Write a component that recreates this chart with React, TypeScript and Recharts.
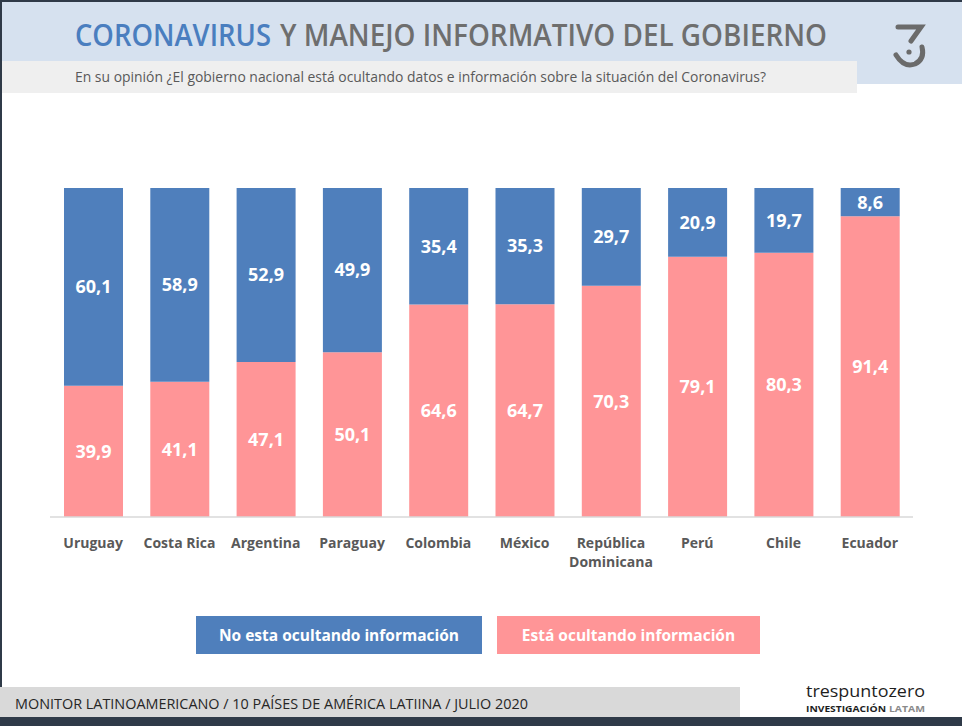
import React from 'react';
import { BarChart, Bar, XAxis, YAxis, LabelList } from 'recharts';

const categories = ['Uruguay', 'Costa Rica', 'Argentina', 'Paraguay', 'Colombia', 'México', 'República Dominicana', 'Perú', 'Chile', 'Ecuador'];
const noOcultando = [60.1, 58.9, 52.9, 49.9, 35.4, 35.3, 29.7, 20.9, 19.7, 8.6];
const ocultando = [39.9, 41.1, 47.1, 50.1, 64.6, 64.7, 70.3, 79.1, 80.3, 91.4];
const seriesNames = { no: 'No esta ocultando información', si: 'Está ocultando información' };

const BLUE = '#4f7fbc';
const PINK = '#ff9597';
const FONT = '"Open Sans", "Noto Sans", sans-serif';

const data = categories.map((c, i) => ({ name: c, no: noOcultando[i], si: ocultando[i] }));

const fmt = (v: any) => String(v).replace('.', ',');

const CategoryTick = (props: any) => {
  const { x, y, payload } = props;
  const label: string = payload.value;
  const lines = label.length > 12 ? label.split(' ') : [label];
  return (
    <g>
      {lines.map((l, i) => (
        <text key={i} x={x} y={y + 23 + i * 19} textAnchor="middle" fill="#595959" fontSize={14} fontWeight={700} fontFamily={FONT}>
          {l}
        </text>
      ))}
    </g>
  );
};

const LegendBoxes = () => {
  const items = [
    { name: seriesNames.no, color: BLUE, w: 286 },
    { name: seriesNames.si, color: PINK, w: 263 },
  ];
  return (
    <div style={{ position: 'absolute', left: 196, top: 616, display: 'flex', gap: 15 }}>
      {items.map((it) => (
        <div key={it.name} style={{ width: it.w, height: 38, background: it.color, color: '#fff', fontFamily: FONT, fontWeight: 700, fontSize: 15.5, display: 'flex', alignItems: 'center', justifyContent: 'center' }}>
          {it.name}
        </div>
      ))}
    </div>
  );
};

const Decor = () => (
  <svg width={962} height={726} style={{ position: 'absolute', left: 0, top: 0 }}>
    <rect x={0} y={0} width={962} height={726} fill="#ffffff" />
    <rect x={0} y={0} width={962} height={84} fill="#d6e1ef" />
    <rect x={0} y={61} width={857} height={32} fill="#efefef" />
    <rect x={0} y={0} width={962} height={2} fill="#2f3a48" />
    <rect x={0} y={0} width={2} height={726} fill="#2f3a48" />
    <text x={75} y={46} fontFamily={FONT} fontSize={31} fontWeight={600} fill="#4a7ebf" textLength={196} lengthAdjust="spacingAndGlyphs">CORONAVIRUS</text>
    <text x={280} y={46} fontFamily={FONT} fontSize={31} fontWeight={600} fill="#6e6e6e" textLength={547} lengthAdjust="spacingAndGlyphs">Y MANEJO INFORMATIVO DEL GOBIERNO</text>
    <text x={75} y={82} fontFamily={FONT} fontSize={14} fill="#595959" textLength={691} lengthAdjust="spacingAndGlyphs">
      En su opinión ¿El gobierno nacional está ocultando datos e información sobre la situación del Coronavirus?
    </text>
    <g stroke="#6b6b6b" strokeWidth={5} fill="none" strokeLinecap="round">
      <path d="M 898 27 L 921 27 L 911 41" />
      <path d="M 896 55 Q 904 68 915 64 Q 925 59 922 47" />
    </g>
    <circle cx={909} cy={52} r={2.6} fill="#6b6b6b" />
    <rect x={0} y={687} width={740} height={30} fill="#d9d9d9" />
    <text x={15} y={709} fontFamily={FONT} fontSize={14} fill="#262626" textLength={513} lengthAdjust="spacingAndGlyphs">
      MONITOR LATINOAMERICANO / 10 PAÍSES DE AMÉRICA LATIINA / JULIO 2020
    </text>
    <text x={806} y={697} fontFamily={FONT} fontSize={16} fill="#1e1e1e" textLength={119} lengthAdjust="spacingAndGlyphs">trespuntozero</text>
    <text x={806} y={712} fontFamily={FONT} fontSize={9} fontWeight={700} fill="#1e1e1e" textLength={80} lengthAdjust="spacingAndGlyphs">INVESTIGACIÓN</text>
    <text x={889} y={712} fontFamily={FONT} fontSize={9} fontWeight={700} fill="#8a8a8a" textLength={36} lengthAdjust="spacingAndGlyphs">LATAM</text>
    <rect x={0} y={717} width={962} height={9} fill="#2f3a48" />
  </svg>
);

export default function App() {
  return (
    <div style={{ position: 'absolute', left: 0, top: 0, width: 962, height: 726, overflow: 'hidden' }}>
      <Decor />
      <div style={{ position: 'absolute', left: 0, top: 0 }}>
        <BarChart width={962} height={726} data={data} margin={{ top: 188, right: 49, bottom: 169, left: 50 }} barSize={59}>
          <XAxis dataKey="name" height={40} interval={0} tickLine={false} axisLine={{ stroke: '#d9d9d9', strokeWidth: 1.5 }} tick={<CategoryTick />} />
          <YAxis hide domain={[0, 100]} width={0} />
          <Bar dataKey="si" name={seriesNames.si} stackId="a" fill={PINK} isAnimationActive={false}>
            <LabelList dataKey="si" position="center" fill="#ffffff" fontSize={18} fontWeight={700} fontFamily={FONT} formatter={fmt} />
          </Bar>
          <Bar dataKey="no" name={seriesNames.no} stackId="a" fill={BLUE} isAnimationActive={false}>
            <LabelList dataKey="no" position="center" fill="#ffffff" fontSize={18} fontWeight={700} fontFamily={FONT} formatter={fmt} />
          </Bar>
        </BarChart>
      </div>
      <LegendBoxes />
    </div>
  );
}
